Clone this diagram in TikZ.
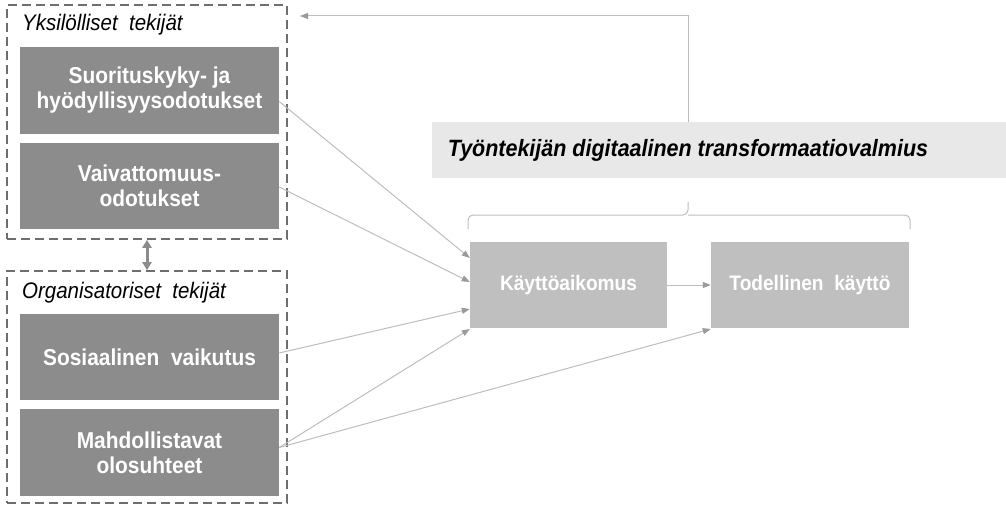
\documentclass[tikz,border=0pt]{standalone}
\usepackage{fontspec}
\setmainfont{Liberation Sans}
\newfontfamily\nf[FakeStretch=0.91]{Liberation Sans}
\usetikzlibrary{arrows.meta,calc}
\definecolor{darkbox}{HTML}{8C8C8C}
\definecolor{lightbox}{HTML}{BFBFBF}
\definecolor{titlebg}{HTML}{E8E8E8}
\definecolor{conn}{HTML}{BDBDBD}
\definecolor{tipc}{HTML}{9A9A9A}
\definecolor{dashc}{HTML}{6E6E6E}
\begin{document}
\begin{tikzpicture}[x=1pt,y=-1pt,
  darkstyle/.style={draw=none,fill=darkbox,text=white,inner sep=0pt,minimum width=259pt,align=center,font=\nf\fontsize{23}{25}\selectfont\bfseries},
  lightstyle/.style={draw=none,fill=lightbox,text=white,inner sep=0pt,minimum height=86pt,align=center,font=\nf\fontsize{21}{24}\selectfont\bfseries},
  groupstyle/.style={draw=dashc,line width=1.6pt,dash pattern=on 9pt off 5pt,fill=none,inner sep=0pt},
  grouplabel/.style={anchor=west,inner sep=0pt,font=\nf\fontsize{22.5}{24}\selectfont\itshape},
  connstyle/.style={draw=conn,line width=1pt,-{Triangle[length=8pt,width=6pt,fill=tipc,color=tipc]}},
  linkstyle/.style={draw=conn,line width=1pt}
]
\useasboundingbox (0,0) rectangle (1006,505);
% groups
\node[groupstyle,minimum width=280pt,minimum height=234pt] (g1) at (147,122) {};
\node[groupstyle,minimum width=280pt,minimum height=232pt] (g2) at (147,387) {};
\node[grouplabel] (l1) at (22,25) {Yksilölliset\ \ tekijät};
\node[grouplabel] (l2) at (22,293) {Organisatoriset\ \ tekijät};
% left boxes
\node[darkstyle,minimum height=87pt] (b1) at (149.5,90.5) {Suorituskyky- ja\\hyödyllisyysodotukset};
\node[darkstyle,minimum height=86pt] (b2) at (149.5,186) {Vaivattomuus-\\odotukset};
\node[darkstyle,minimum height=86pt] (b3) at (149.5,357) {Sosiaalinen\ \ vaikutus};
\node[darkstyle,minimum height=87pt] (b4) at (149.5,452.5) {Mahdollistavat\\olosuhteet};
% right boxes
\node[lightstyle,minimum width=197pt] (ka) at (568.5,285) {Käyttöaikomus};
\node[lightstyle,minimum width=198pt] (tk) at (810,285) {Todellinen\ \ käyttö};
% title
\node[fill=titlebg,draw=none,inner sep=0pt,minimum width=574pt,minimum height=56pt] (tbox) at (719,150) {};
\node[inner sep=0pt,font=\nf\fontsize{23.6}{26}\selectfont\bfseries\itshape] (title) at (688,150) {Työntekijän digitaalinen transformaatiovalmius};
% brace
\coordinate (bl) at (468,229);
\coordinate (br) at (910,229);
\coordinate (bc) at (688,202);
\draw[linkstyle,rounded corners=5pt] (bl) -- (bl |- 0,215) -- (bc |- 0,215) -- (bc);
\draw[linkstyle,rounded corners=5pt] (br) -- (br |- 0,215) -- (bc |- 0,215);
% feedback
\coordinate (fb) at (688,16);
\coordinate (fbend) at (300,16);
\draw[connstyle] (title |- tbox.north) -- (fb) -- (fbend);
% double arrow between groups
\draw[draw=darkbox,line width=3pt,{Triangle[length=8pt,width=9pt]}-{Triangle[length=8pt,width=9pt]}] (g1.south) -- (g2.north);
% connectors
\draw[connstyle] ([yshift=-11pt]b1.east) -- ([yshift=27pt]ka.west);
\draw[connstyle] ([yshift=-1pt]b2.east) -- ([yshift=3pt]ka.west);
\draw[connstyle] ([yshift=4pt]b3.east) -- ([yshift=-24pt]ka.west);
\draw[connstyle] ([yshift=5pt]b4.east) -- ([yshift=-44pt]ka.west);
\draw[connstyle] ([yshift=5pt]b4.east) -- ([yshift=-44pt]tk.west);
\draw[connstyle] (ka.east) -- (tk.west);
\end{tikzpicture}
\end{document}
